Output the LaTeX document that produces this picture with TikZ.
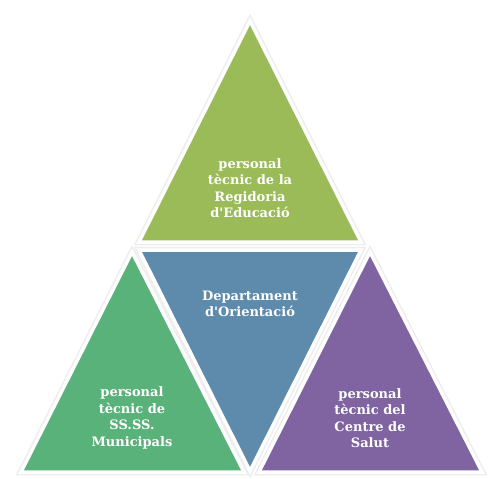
\documentclass[tikz,border=0pt]{standalone}
\usepackage{fontspec}
\setmainfont{DejaVu Serif}[Ligatures=TeXOff]
\definecolor{olive}{HTML}{9BBB59}
\definecolor{steel}{HTML}{5E8BAB}
\definecolor{leafgreen}{HTML}{5AB27B}
\definecolor{violet}{HTML}{7F64A1}
\tikzset{
  tri/.style={fill=#1, draw=white, line width=3.5pt, line join=miter},
  triglow/.style={draw=black!7, line width=6.5pt, line join=miter},
  lbl/.style={text=white, font=\bfseries\fontsize{13}{16.5}\selectfont, align=center}
}
\begin{document}
\begin{tikzpicture}[x=1pt,y=-1pt]
\useasboundingbox (0,0) rectangle (490,479);
% shadows
\draw[triglow] (250,21) -- (139,242) -- (361,242) -- cycle;
\draw[triglow] (139,250) -- (361,250) -- (250,471) -- cycle;
\draw[triglow] (132,252) -- (21,472) -- (244,472) -- cycle;
\draw[triglow] (370,252) -- (259,472) -- (482,472) -- cycle;
% triangles
\draw[tri=olive] (250,21) -- (139,242) -- (361,242) -- cycle;
\draw[tri=steel] (139,250) -- (361,250) -- (250,471) -- cycle;
\draw[tri=leafgreen] (132,252) -- (21,472) -- (244,472) -- cycle;
\draw[tri=violet] (370,252) -- (259,472) -- (482,472) -- cycle;
% labels
\node[lbl] (top) at (250,188) {personal\\tècnic de la\\Regidoria\\d'Educació};
\node[lbl] (mid) at (250,304) {Departament\\d'Orientació};
\node[lbl] (left) at (132,418) {personal\\tècnic de\\SS.SS.\\Municipals};
\node[lbl] (right) at (370,418) {personal\\tècnic del\\Centre de\\Salut};
\end{tikzpicture}
\end{document}
